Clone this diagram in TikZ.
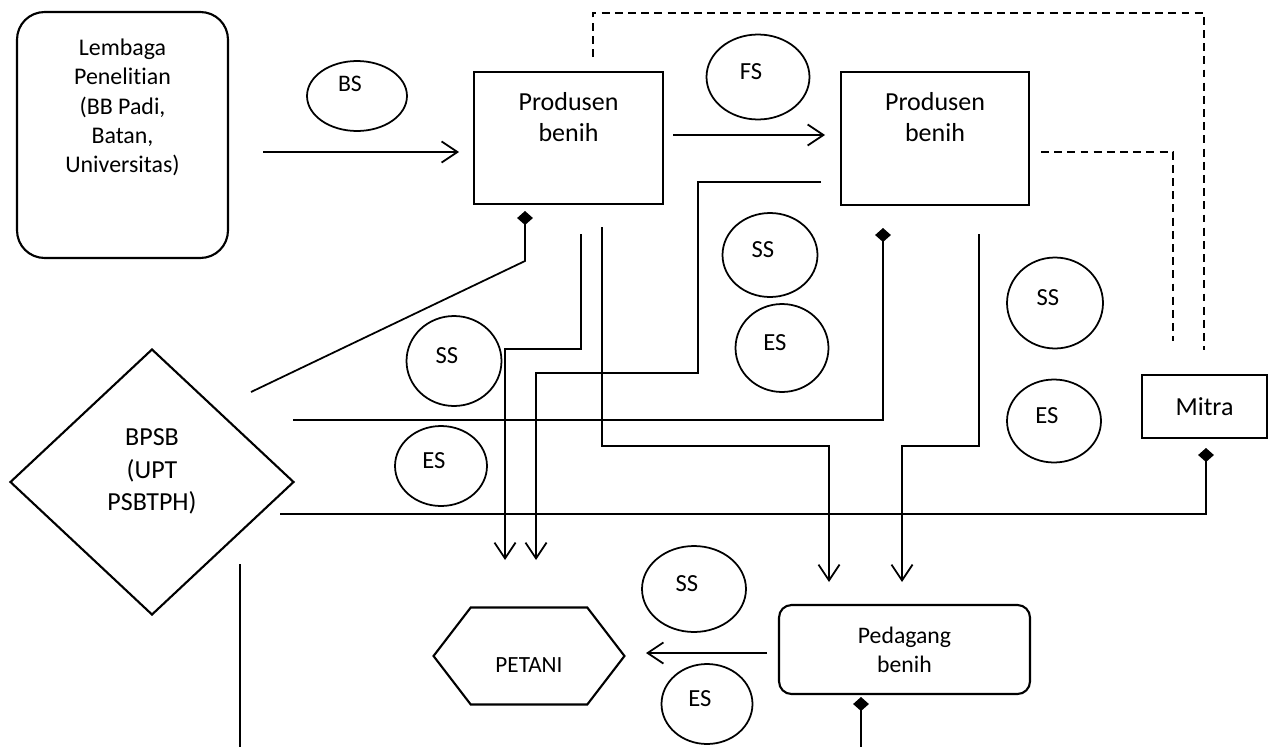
\documentclass[tikz,border=0pt]{standalone}
\usepackage{fontspec}
\setmainfont{Carlito}[Ligatures=NoCommon]
\usetikzlibrary{arrows.meta,shapes.geometric,shapes.symbols}

\begin{document}
\begin{tikzpicture}[x=0.02cm, y=-0.02cm, line width=1pt,
    >={Straight Barb[length=9pt,width=12pt]},
    box/.style={draw, line width=1.2pt, inner sep=0pt},
    seed/.style={draw, ellipse, inner sep=0pt},
    seedtext/.style={label={[xshift=-4pt,yshift=3pt,font=\fontsize{14}{16}\selectfont]center:#1}},
    own/.style={-{Diamond[length=8pt,width=9pt]}},
    link/.style={dash pattern=on 4.5pt off 3pt}]
    \useasboundingbox (0,0) rectangle (1271,747);
	% institutions
	\node[box, rounded corners=0.55cm, minimum width=4.22cm, minimum height=4.92cm,
	      label={[align=center, anchor=north, yshift=-12.2pt, font=\fontsize{13.6}{16.6}\selectfont]north:{Lembaga\\Penelitian\\(BB Padi,\\Batan,\\Universitas)}}] (lembaga) at (122.5,135) {};
	\node[box, minimum width=3.78cm, minimum height=2.64cm,
	      label={[align=center, anchor=north, yshift=-8.5pt, font=\fontsize{14.8}{17.6}\selectfont]north:{Produsen\\benih}}] (prodA) at (568.5,138) {};
	\node[box, minimum width=3.76cm, minimum height=2.66cm,
	      label={[align=center, anchor=north, yshift=-8.5pt, font=\fontsize{14.8}{17.6}\selectfont]north:{Produsen\\benih}}] (prodB) at (935,138.5) {};
	\node[box, minimum width=2.5cm, minimum height=1.26cm, font=\fontsize{14.8}{17}\selectfont] (mitra) at (1204.5,406.5) {Mitra};
	\node[box, diamond, minimum width=5.68cm, minimum height=5.32cm,
	      label={[align=center, yshift=6pt, font=\fontsize{14.8}{18.5}\selectfont]center:{BPSB\\(UPT\\PSBTPH)}}] (bpsb) at (152,482) {};
	\node[box, rounded corners=0.25cm, minimum width=5.02cm, minimum height=1.78cm, align=center,
	      font=\fontsize{13.5}{16.4}\selectfont] (pedagang) at (904.5,649.5) {Pedagang\\benih};
	\node[box, signal, signal to=west and east, signal pointer angle=105, minimum width=3.82cm, minimum height=1.94cm,
	      label={[yshift=-5pt, font=\fontsize{13.2}{15}\selectfont]center:PETANI}] (petani) at (529,656) {};
	% seed classes
	\node[seed, minimum width=2.0cm, minimum height=1.4cm,
	      label={[xshift=-4pt, yshift=7pt, font=\fontsize{13.5}{16}\selectfont]center:BS}] (bs) at (357,96) {};
	\node[seed, seedtext=FS, minimum width=2.06cm, minimum height=1.7cm] (fs) at (758,77) {};
	\node[seed, seedtext=SS, minimum width=1.9cm, minimum height=1.8cm] (ssA) at (454,361) {};
	\node[seed, seedtext=ES, minimum width=1.84cm, minimum height=1.6cm] (esA) at (441,466) {};
	\node[seed, seedtext=SS, minimum width=1.9cm, minimum height=1.68cm] (ssB) at (770,255) {};
	\node[seed, seedtext=ES, minimum width=1.86cm, minimum height=1.76cm] (esB) at (782,348) {};
	\node[seed, seedtext=SS, minimum width=1.92cm, minimum height=1.82cm] (ssC) at (1055,303) {};
	\node[seed, seedtext=ES, minimum width=1.88cm, minimum height=1.66cm] (esC) at (1054,421) {};
	\node[seed, seedtext=SS, minimum width=2.08cm, minimum height=1.72cm] (ssD) at (694,589) {};
	\node[seed, seedtext=ES, minimum width=1.82cm, minimum height=1.6cm] (esD) at (707,704) {};
	% free ends of the flows
	\coordinate (bsA) at (263,152);
	\coordinate (bsB) at (459,152);
	\coordinate (fsA) at (673,135);
	\coordinate (fsB) at (825,135);
	\coordinate (farm1) at (505,560);
	\coordinate (farm2) at (536,560);
	\coordinate (shop1) at (829,582);
	\coordinate (shop2) at (902,582);
	% flows of seed
	\draw[->] (bsA) -- (bsB);
	\draw[->] (fsA) -- (fsB);
	\draw[->] (581,234) -- (581,349) -- (farm1 |- 0,349) -- (farm1);
	\draw[->] (821,182) -- (698,182) -- (698,373) -- (farm2 |- 0,373) -- (farm2);
	\draw[->] (602,227) -- (602,446) -- (shop1 |- 0,446) -- (shop1);
	\draw[->] (979,234) -- (979,446) -- (shop2 |- 0,446) -- (shop2);
	\draw[->] (767,653) -- (646,653);
	% control by BPSB
	\draw[own] (251,392) -- (525,261) -- (525,211);
	\draw[own] (293,420) -- (883,420) -- (883,228);
	\draw[own] (280,514) -- (1206,514) -- (1206,448);
	\draw[own] (861,747) -- (861,697);
	\draw (240,564) -- (240,747);
	% partnership
	\draw[link] (593,57) -- (593,13) -- (1204,13) -- (1204,350);
	\draw[link] (1041,152) -- (1173,152) -- (1173,341);
\end{tikzpicture}
\end{document}
